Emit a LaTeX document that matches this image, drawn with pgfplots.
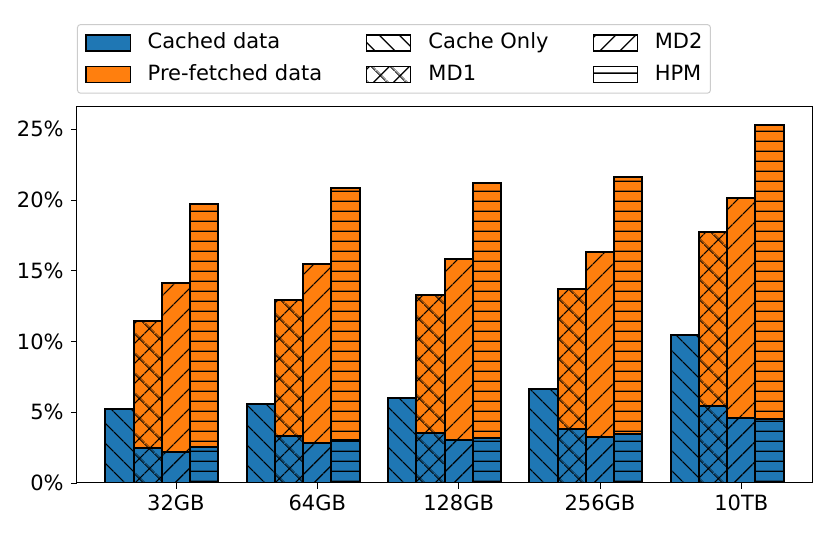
\documentclass[border=0pt]{standalone}
\usepackage{fontspec}
\setmainfont{DejaVu Sans}
\usepackage{pgfplots}
\pgfplotsset{compat=1.18}
\usepackage{pgfplotstable}
\usetikzlibrary{patterns,patterns.meta}
\definecolor{c0}{HTML}{1F77B4}
\definecolor{c1}{HTML}{FF7F0E}

% horizontal hatch, line centred in a wide tile
\pgfdeclarepatternformonly{hpmlines}{\pgfqpoint{0pt}{0pt}}{\pgfqpoint{60pt}{4.85pt}}{\pgfqpoint{60pt}{4.85pt}}{
  \pgfsetlinewidth{0.7pt}
  \pgfpathmoveto{\pgfqpoint{-1pt}{2.425pt}}
  \pgfpathlineto{\pgfqpoint{61pt}{2.425pt}}
  \pgfusepath{stroke}
}

% x = group index + method offset; cached = blue part; total = cached + pre-fetched
\pgfplotstableread{
x    cached total
-0.4 5.21  5.21
0.6  5.61  5.61
1.6  6.01  6.01
2.6  6.63  6.63
3.6  10.45 10.45
}\cacheonly
\pgfplotstableread{
x    cached total
-0.2 2.50  11.44
0.8  3.30  12.92
1.8  3.54  13.28
2.8  3.80  13.70
3.8  5.47  17.71
}\mdone
\pgfplotstableread{
x    cached total
0.0  2.19  14.13
1.0  2.83  15.50
2.0  3.02  15.85
3.0  3.25  16.32
4.0  4.60  20.17
}\mdtwo
\pgfplotstableread{
x    cached total
0.2  2.52  19.72
1.2  3.02  20.87
2.2  3.21  21.18
3.2  3.44  21.65
4.2  4.55  25.31
}\hpm

\tikzset{
  hCO/.style={postaction={pattern={Lines[angle=-45,distance=6.9pt,line width=0.7pt]},pattern color=black}},
  hMDa/.style={postaction={pattern={Hatch[angle=45,distance=6.9pt,line width=0.7pt]},pattern color=black}},
  hMDb/.style={postaction={pattern={Lines[angle=45,distance=6.9pt,line width=0.7pt]},pattern color=black}},
  hHPM/.style={postaction={pattern=hpmlines,pattern color=black}},
}
\pgfplotsset{
  mybar/.style={ybar, bar width=0.2, bar shift=0pt, draw=black, line width=1pt, forget plot},
}

\begin{document}
\begin{tikzpicture}[font=\fontsize{10.5}{12.6}\selectfont]
\useasboundingbox (-38.5pt,-25.5pt) rectangle (376.5pt,241.5pt);
\begin{axis}[
  scale only axis, width=367.5pt, height=188pt,
  xmin=-0.7, xmax=4.5, ymin=0, ymax=26.58,
  axis line style={line width=0.5pt},
  xtick={0,1,2,3,4},
  xticklabels={32GB,64GB,128GB,256GB,10TB},
  ytick={0,5,10,15,20,25},
  yticklabels={0\%,5\%,10\%,15\%,20\%,25\%},
  tick align=outside, major tick length=3pt,
  tick style={line width=0.4pt, black},
  xtick pos=bottom, ytick pos=left,
  tick label style={font=\fontsize{10.5}{12.6}\selectfont},
  yticklabel style={inner sep=0pt, anchor=east, xshift=-3.5pt},
  xticklabel style={inner sep=0pt, anchor=north, yshift=-3pt},
  legend columns=3,
  legend cell align=left,
  legend image code/.code={\draw[sharp corners, line width=0.6pt, #1] (0pt,-4pt) rectangle (22pt,4pt);},
  legend style={at={(0,1)}, anchor=south west, yshift=6.65pt,
    draw=black!20, line width=0.5pt, rounded corners=1.5pt,
    inner xsep=4pt, inner ysep=4pt,
    column sep=8.5pt, row sep=5.3pt,
    font=\fontsize{10.5}{12.6}\selectfont,
    nodes={inner sep=0pt, text height=8pt, text depth=2.5pt, anchor=west},
    /tikz/every even column/.append style={column sep=22pt}},
]
% totals (orange, pre-fetched on top) drawn first, cached (blue) over them
\addplot[mybar, fill=c1, hMDa] table[x=x, y=total] {\mdone};
\addplot[mybar, fill=c1, hMDb] table[x=x, y=total] {\mdtwo};
\addplot[mybar, fill=c1, hHPM] table[x=x, y=total] {\hpm};
\addplot[mybar, fill=c0, hCO]  table[x=x, y=cached] {\cacheonly};
\addplot[mybar, fill=c0, hMDa] table[x=x, y=cached] {\mdone};
\addplot[mybar, fill=c0, hMDb] table[x=x, y=cached] {\mdtwo};
\addplot[mybar, fill=c0, hHPM] table[x=x, y=cached] {\hpm};

\addlegendimage{fill=c0, draw=black}
\addlegendentry{Cached data}
\addlegendimage{fill=white, draw=black, hCO}
\addlegendentry{Cache Only}
\addlegendimage{fill=white, draw=black, hMDb}
\addlegendentry{MD2}
\addlegendimage{fill=c1, draw=black}
\addlegendentry{Pre-fetched data}
\addlegendimage{fill=white, draw=black, hMDa}
\addlegendentry{MD1}
\addlegendimage{fill=white, draw=black, hHPM}
\addlegendentry{HPM}
\end{axis}
\end{tikzpicture}
\end{document}
